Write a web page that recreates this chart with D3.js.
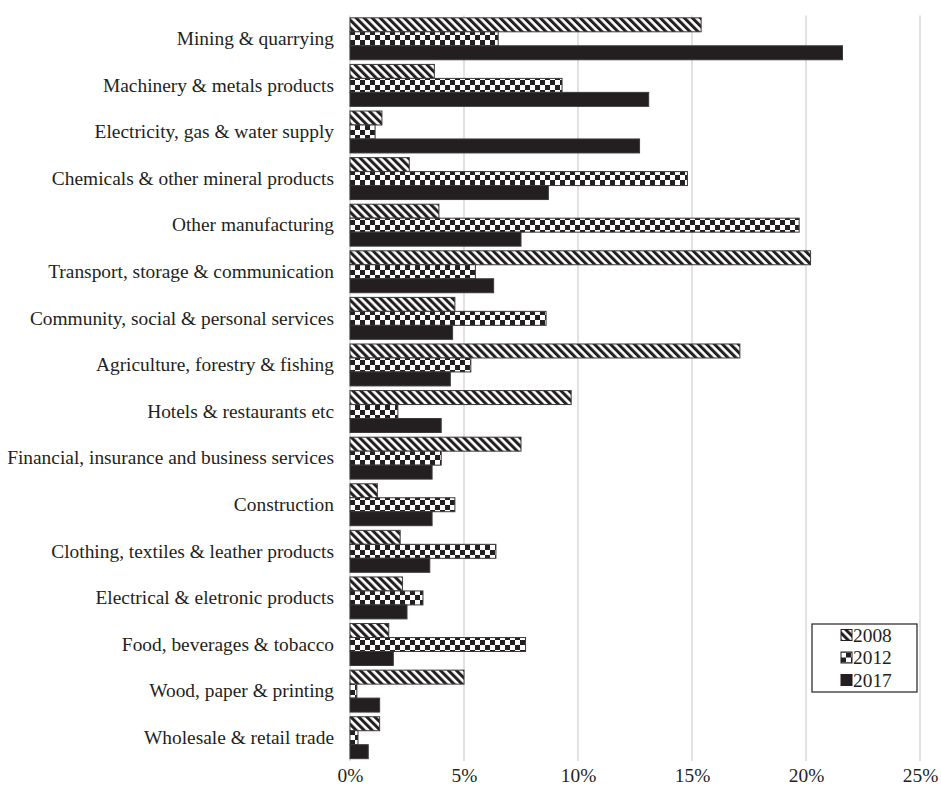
<!DOCTYPE html>
<html>
<head>
<meta charset="utf-8">
<script src="https://d3js.org/d3.v7.min.js"></script>
<style>
  body { margin: 0; background: #fff; }
  text { font-family: "Liberation Serif", "Times New Roman", serif; fill: #231f20; }
</style>
</head>
<body>
<div id="chart"></div>
<script>
// categories, top to bottom
var categories = [
  "Mining & quarrying",
  "Machinery & metals products",
  "Electricity, gas & water supply",
  "Chemicals & other mineral products",
  "Other manufacturing",
  "Transport, storage & communication",
  "Community, social & personal services",
  "Agriculture, forestry & fishing",
  "Hotels & restaurants etc",
  "Financial, insurance and business services",
  "Construction",
  "Clothing, textiles & leather products",
  "Electrical & eletronic products",
  "Food, beverages & tobacco",
  "Wood, paper & printing",
  "Wholesale & retail trade"
];

var years = ["2008", "2012", "2017"];

// shares in percent
var v2008 = [15.4, 3.7, 1.4, 2.6, 3.9, 20.2, 4.6, 17.1, 9.7, 7.5, 1.2, 2.2, 2.3, 1.7, 5.0, 1.3];
var v2012 = [6.5, 9.3, 1.1, 14.8, 19.7, 5.5, 8.6, 5.3, 2.1, 4.0, 4.6, 6.4, 3.2, 7.7, 0.3, 0.35];
var v2017 = [21.6, 13.1, 12.7, 8.7, 7.5, 6.3, 4.5, 4.4, 4.0, 3.6, 3.6, 3.5, 2.5, 1.9, 1.3, 0.8];

var xTicks = [0, 5, 10, 15, 20, 25];

var W = 941, H = 791;
var plotLeft = 350, plotRight = 920, plotTop = 15.5, plotBottom = 761;
var fontSize = "19.4px";

var svg = d3.select("#chart").append("svg")
  .attr("width", W)
  .attr("height", H);

// patterns
var defs = svg.append("defs");

var stripe = defs.append("pattern")
  .attr("id", "p2008")
  .attr("patternUnits", "userSpaceOnUse")
  .attr("width", 5.66)
  .attr("height", 5.66)
  .attr("patternTransform", "rotate(-45)");
stripe.append("rect").attr("width", 5.66).attr("height", 5.66).attr("fill", "#fff");
stripe.append("rect").attr("width", 3).attr("height", 5.66).attr("fill", "#231f20");

var checker = defs.append("pattern")
  .attr("id", "p2012")
  .attr("patternUnits", "userSpaceOnUse")
  .attr("width", 10)
  .attr("height", 10);
checker.append("rect").attr("width", 10).attr("height", 10).attr("fill", "#fff");
checker.append("rect").attr("width", 5).attr("height", 5).attr("fill", "#231f20");
checker.append("rect").attr("x", 5).attr("y", 5).attr("width", 5).attr("height", 5).attr("fill", "#231f20");

var fills = { "2008": "url(#p2008)", "2012": "url(#p2012)", "2017": "#231f20" };
var series = { "2008": v2008, "2012": v2012, "2017": v2017 };

// scales
var x = d3.scaleLinear().domain([0, 25]).range([plotLeft, plotRight]);

var y = d3.scaleBand()
  .domain(categories)
  .range([plotTop, plotBottom])
  .paddingInner(0.1)
  .paddingOuter(0.05);

var yInner = d3.scaleBand()
  .domain(years)
  .range([0, y.bandwidth()]);

// gridlines
svg.append("g")
  .attr("class", "grid")
  .selectAll("line")
  .data(xTicks)
  .join("line")
  .attr("x1", function (d) { return x(d); })
  .attr("x2", function (d) { return x(d); })
  .attr("y1", plotTop)
  .attr("y2", plotBottom)
  .attr("stroke", "#d9d9d9")
  .attr("stroke-width", 1.5);

// bars
var rows = [];
categories.forEach(function (c, i) {
  years.forEach(function (yr) {
    rows.push({ cat: c, year: yr, value: series[yr][i] });
  });
});

svg.append("g")
  .selectAll("rect")
  .data(rows)
  .join("rect")
  .attr("x", x(0))
  .attr("y", function (d) { return y(d.cat) + yInner(d.year); })
  .attr("width", function (d) { return x(d.value) - x(0); })
  .attr("height", yInner.bandwidth())
  .attr("fill", function (d) { return fills[d.year]; })
  .attr("stroke", "#3a3a3a")
  .attr("stroke-width", 1);

// axes
var xAxis = d3.axisBottom(x)
  .tickValues(xTicks)
  .tickSize(0)
  .tickPadding(7)
  .tickFormat(function (d) { return d + "%"; });

svg.append("g")
  .attr("class", "x-axis")
  .attr("transform", "translate(0," + plotBottom + ")")
  .call(xAxis)
  .call(function (g) { g.select(".domain").remove(); })
  .selectAll("text")
  .style("font-size", fontSize)
  .style("font-family", "Liberation Serif, serif")
  .attr("fill", "#231f20");

var yAxis = d3.axisLeft(y)
  .tickSize(0)
  .tickPadding(16);

svg.append("g")
  .attr("class", "y-axis")
  .attr("transform", "translate(" + plotLeft + ",0)")
  .call(yAxis)
  .call(function (g) { g.select(".domain").remove(); })
  .selectAll("text")
  .style("font-size", fontSize)
  .style("font-family", "Liberation Serif, serif")
  .attr("fill", "#231f20");

// legend
var legend = svg.append("g").attr("class", "legend");
legend.append("rect")
  .attr("x", 812)
  .attr("y", 624)
  .attr("width", 105)
  .attr("height", 68)
  .attr("fill", "#fff")
  .attr("stroke", "#231f20")
  .attr("stroke-width", 1.2);

var item = legend.selectAll("g.item")
  .data(years)
  .join("g")
  .attr("class", "item")
  .attr("transform", function (d, i) { return "translate(841," + (635 + i * 22.5) + ")"; });

item.append("rect")
  .attr("x", 0)
  .attr("y", -5.5)
  .attr("width", 11)
  .attr("height", 11)
  .attr("fill", function (d) { return fills[d]; })
  .attr("stroke", "#231f20")
  .attr("stroke-width", 1);

item.append("text")
  .attr("x", 12)
  .attr("dy", "0.35em")
  .style("font-size", fontSize)
  .text(function (d) { return d; });
</script>
</body>
</html>
